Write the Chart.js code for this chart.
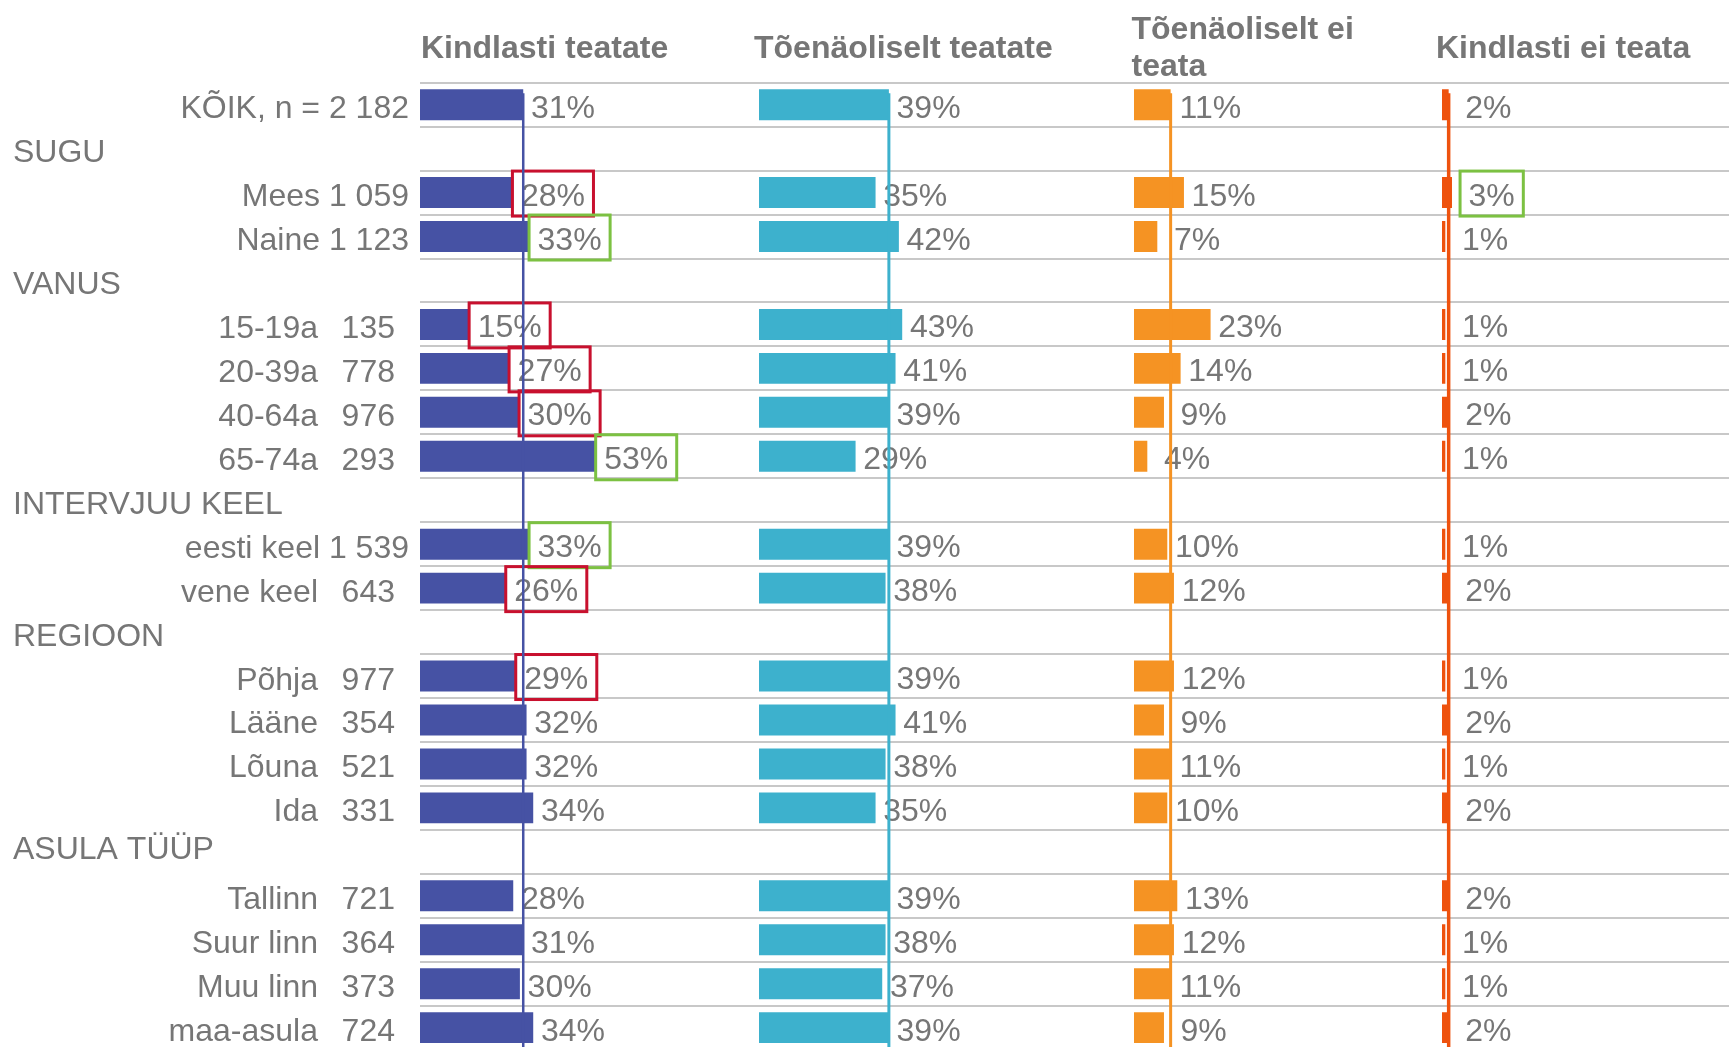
<!DOCTYPE html>
<html><head><meta charset="utf-8">
<script src="https://cdn.jsdelivr.net/npm/chart.js@4.4.1/dist/chart.umd.min.js"></script>
<style>
html,body{margin:0;padding:0;background:#fff;overflow:hidden;width:1729px;height:1047px;}
canvas{position:absolute;top:0;}
</style></head><body>
<canvas id="c1" width="759" height="1060" style="left:0px"></canvas>
<canvas id="c2" width="385" height="1060" style="left:749px"></canvas>
<canvas id="c3" width="318" height="1060" style="left:1124px"></canvas>
<canvas id="c4" width="297" height="1060" style="left:1432px"></canvas>
<script>
// ---- data ----
const categories = ['KÕIK, n = 2 182','SUGU','Mees 1 059','Naine 1 123','VANUS','15-19a','20-39a','40-64a','65-74a','INTERVJUU KEEL','eesti keel 1 539','vene keel','REGIOON','Põhja','Lääne','Lõuna','Ida','ASULA TÜÜP','Tallinn','Suur linn','Muu linn','maa-asula'];
const sampleN = ['','','','','','135','778','976','293','','','643','','977','354','521','331','','721','364','373','724'];
const groupHeader = [false,true,false,false,true,false,false,false,false,true,false,false,true,false,false,false,false,true,false,false,false,false];

const seriesTitles = [['Kindlasti teatate'], ['Tõenäoliselt teatate'], ['Tõenäoliselt ei', 'teata'], ['Kindlasti ei teata']];

const kindlastiTeatate     = [31,null,28,33,null,15,27,30,53,null,33,26,null,29,32,32,34,null,28,31,30,34];
const toenaoliseltTeatate  = [39,null,35,42,null,43,41,39,29,null,39,38,null,39,41,38,35,null,39,38,37,39];
const toenaoliseltEiTeata  = [11,null,15,7,null,23,14,9,4,null,10,12,null,12,9,11,10,null,13,12,11,9];
const kindlastiEiTeata     = [2,null,3,1,null,1,1,2,1,null,1,2,null,1,2,1,2,null,2,1,1,2];

const highlight1 = [null,null,'red','green',null,'red','red','red','green',null,'green','red',null,'red',null,null,null,null,null,null,null,null];
const highlight2 = Array(22).fill(null);
const highlight3 = Array(22).fill(null);
const highlight4 = [null,null,'green',null,null,null,null,null,null,null,null,null,null,null,null,null,null,null,null,null,null,null];

// ---- style ----
const FONT = '"Liberation Sans", Arial, sans-serif';
const TEXT = '#767676';
const BOX = {red: '#C8102E', green: '#7CC142'};
const panels = [
  {id:'c1', data:kindlastiTeatate, hl:highlight1, color:'#4652A4', max:101.8, padLeft:420, titleShift:1, lineW:2.5},
  {id:'c2', data:toenaoliseltTeatate, hl:highlight2, color:'#3DB1CD', max:112.6, padLeft:10, titleShift:-5, lineW:3},
  {id:'c3', data:toenaoliseltEiTeata, hl:highlight3, color:'#F59323', max:92.5, padLeft:10, titleShift:-2.5, lineW:3},
  {id:'c4', data:kindlastiEiTeata, hl:highlight4, color:'#EE520E', max:86.2, padLeft:10, titleShift:-6, lineW:3.5}
];

function panelPlugin(p, idx) {
  return {
    id: 'panel' + idx,
    afterDatasetsDraw(chart) {
      const ctx = chart.ctx, area = chart.chartArea;
      const meta = chart.getDatasetMeta(0), xs = chart.scales.x, ys = chart.scales.y;
      ctx.save();
      // header
      ctx.font = 'bold 32px ' + FONT;
      ctx.fillStyle = TEXT;
      ctx.textAlign = 'left';
      ctx.textBaseline = 'alphabetic';
      const t = seriesTitles[idx];
      const hx = area.left + p.titleShift;
      if (t.length === 1) ctx.fillText(t[0], hx, 57.5);
      else { ctx.fillText(t[0], hx, 38.5); ctx.fillText(t[1], hx, 76.3); }
      // value labels and boxes
      ctx.font = '32px ' + FONT;
      ctx.textAlign = 'center';
      p.data.forEach((v, i) => {
        if (v === null) return;
        const el = meta.data[i];
        const cx = el.x + 7.7 + 32;
        const txt = v + '%';
        ctx.fillStyle = TEXT;
        ctx.fillText(txt, cx, el.y + 13);
        if (p.hl[i]) {
          const w = ctx.measureText(txt).width + 17;
          ctx.strokeStyle = BOX[p.hl[i]];
          ctx.lineWidth = 3;
          ctx.strokeRect(cx - w / 2, el.y - 21.5, w, 45);
        }
      });
      // reference line at the total value
      const x0 = xs.getPixelForValue(p.data[0]);
      const top = meta.data[0].y - meta.data[0].height / 2 + 4;
      ctx.strokeStyle = p.color;
      ctx.lineWidth = p.lineW;
      ctx.beginPath();
      ctx.moveTo(x0, top);
      ctx.lineTo(x0, area.bottom);
      ctx.stroke();
      // row labels (first panel only)
      if (idx === 0) {
        ctx.font = '32px ' + FONT;
        ctx.fillStyle = TEXT;
        categories.forEach((c, i) => {
          const y = ys.getPixelForValue(i) + 13.5;
          if (groupHeader[i]) { ctx.textAlign = 'left'; ctx.fillText(c, 13, y - (i === 17 ? 6 : 0)); }
          else if (sampleN[i]) {
            ctx.textAlign = 'right';
            ctx.fillText(c, 318, y);
            ctx.fillText(sampleN[i], 395, y);
          } else { ctx.textAlign = 'right'; ctx.fillText(c, 409, y); }
        });
      }
      ctx.restore();
    }
  };
}

panels.forEach((p, idx) => {
  new Chart(document.getElementById(p.id), {
    type: 'bar',
    data: {
      labels: categories,
      datasets: [{ data: p.data, backgroundColor: p.color, borderWidth: 0, barPercentage: 0.705, categoryPercentage: 1.0 }]
    },
    options: {
      indexAxis: 'y',
      responsive: false,
      animation: false,
      devicePixelRatio: 1,
      layout: { padding: { left: p.padLeft, right: 0, top: 82.7, bottom: 10.4 } },
      plugins: { legend: { display: false }, tooltip: { enabled: false }, title: { display: false } },
      scales: {
        x: { display: false, min: 0, max: p.max },
        y: {
          type: 'category',
          offset: true,
          grid: { offset: true, color: '#C8C8C8', lineWidth: 2, drawTicks: false },
          border: { display: false },
          ticks: { display: false },
          afterFit: s => { s.width = 0; }
        }
      }
    },
    plugins: [panelPlugin(p, idx)]
  });
});
</script>
</body></html>
